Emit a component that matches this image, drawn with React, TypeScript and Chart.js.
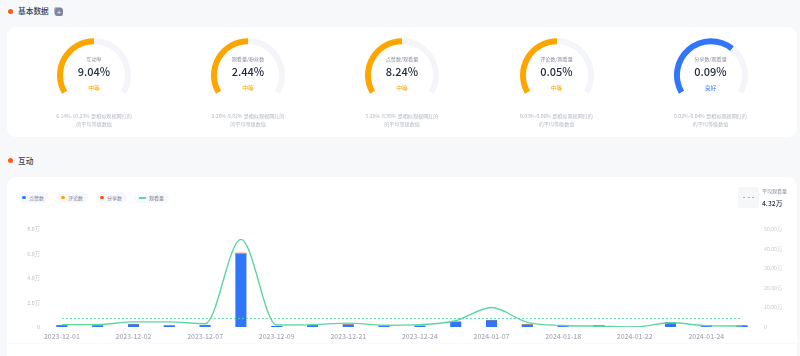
import React, { useEffect, useRef } from "react";
import { Chart, registerables } from "chart.js";

Chart.register(...registerables);

const FONT = '"Noto Sans CJK SC", "Noto Sans", sans-serif';

// ---- gauge data ----
const gaugeNames = ["互动率", "观看量/粉丝数", "点赞数/观看量", "评论数/观看量", "分享数/观看量"];
const gaugeValues = ["9.04%", "2.44%", "8.24%", "0.05%", "0.09%"];
const gaugeFill = [50, 50, 50, 50, 66];
const gaugeLevels = ["中等", "中等", "中等", "中等", "良好"];
const gaugeRanges = ["6.14%-10.23%", "2.20%-9.92%", "5.28%-8.99%", "0.03%-0.06%", "0.02%-0.04%"];
const gaugeCenters = [94, 248, 402, 556.5, 710.5];

// ---- main chart data ----
const categories = [
  "2023-12-01", "2023-12-01", "2023-12-02", "2023-12-05", "2023-12-07",
  "2023-12-08", "2023-12-09", "2023-12-15", "2023-12-21", "2023-12-22",
  "2023-12-24", "2023-12-28", "2024-01-07", "2024-01-10", "2024-01-18",
  "2024-01-20", "2024-01-22", "2024-01-23", "2024-01-24", "2024-01-25",
];
const likes = [0.12, 0.1, 0.19, 0.1, 0.12, 5.95, 0.06, 0.12, 0.17, 0.08, 0.08, 0.41, 0.52, 0.17, 0.12, 0.1, 0, 0.37, 0.12, 0.1];
const comments = [0, 0, 0, 0, 0, 0.07, 0, 0, 0, 0, 0, 0, 0, 0, 0, 0, 0, 0, 0, 0];
const shares = [0, 0, 0, 0, 0, 0.03, 0, 0, 0, 0, 0, 0, 0, 0, 0, 0, 0, 0, 0, 0];
const views = [1.2, 1.2, 2.6, 2.6, 1.7, 44.9, 1.0, 1.2, 2.0, 0.9, 1.2, 3.2, 10, 2.4, 0.8, 0.4, 0, 2.2, 0.7, 0.5];
const averageViews = 4.32;
const averageSeries = categories.map(() => averageViews);
const leftTickStep = 2;
const leftTickMax = 8;
const rightTickStep = 10;
const rightTickMax = 50;

const BLUE = "#2f76fb";
const AMBER = "#ffa500";
const RED = "#ff4d0d";
const GREEN = "#5cd6a0";

const legendItems = [
  { name: "点赞数", color: BLUE, left: 18, width: 31, line: false },
  { name: "评论数", color: AMBER, left: 57, width: 31, line: false },
  { name: "分享数", color: RED, left: 96, width: 31, line: false },
  { name: "观看量", color: GREEN, left: 134, width: 35, line: true },
];

function Gauge({ fill, color }: { fill: number; color: string }) {
  const ref = useRef<HTMLCanvasElement>(null);
  useEffect(() => {
    const chart = new Chart(ref.current!, {
      type: "doughnut",
      data: {
        datasets: [
          {
            data: [fill, 100 - fill],
            backgroundColor: [color, "#f4f5f8"],
            borderWidth: 0,
          },
        ],
      },
      options: {
        animation: false,
        responsive: false,
        rotation: -120,
        circumference: 240,
        cutout: "84%",
        layout: { padding: 1 },
        plugins: { legend: { display: false }, tooltip: { enabled: false } },
      },
    });
    return () => chart.destroy();
  }, [fill, color]);
  return <canvas ref={ref} width={76} height={58} style={{ display: "block", width: 76, height: 58 }} />;
}

function MainChart() {
  const ref = useRef<HTMLCanvasElement>(null);
  useEffect(() => {
    const tickColor = "#b9bdc8";
    const chart = new Chart(ref.current!, {
      type: "bar",
      data: {
        labels: categories,
        datasets: [
          { type: "line", label: "平均观看量", data: averageSeries, yAxisID: "y1", borderColor: GREEN, borderWidth: 1, borderDash: [2, 2], pointRadius: 0, order: 1 },
          { type: "line", label: "观看量", data: views, yAxisID: "y1", borderColor: GREEN, borderWidth: 1.4, cubicInterpolationMode: "monotone", pointRadius: 0, order: 0 },
          { type: "bar", label: "点赞数", data: likes, yAxisID: "y", backgroundColor: BLUE, barThickness: 10.4, stack: "s", order: 3 },
          { type: "bar", label: "评论数", data: comments, yAxisID: "y", backgroundColor: AMBER, barThickness: 10.4, stack: "s", order: 3 },
          { type: "bar", label: "分享数", data: shares, yAxisID: "y", backgroundColor: RED, barThickness: 10.4, stack: "s", order: 3 },
        ],
      } as any,
      options: {
        animation: false,
        responsive: false,
        layout: { padding: { top: 229.4, left: 0, right: 0, bottom: 0 } },
        plugins: { legend: { display: false }, tooltip: { enabled: false } },
        scales: {
          x: {
            stacked: true,
            grid: { display: false, drawTicks: false },
            border: { display: false },
            afterFit: (s: any) => { s.height = 29; },
            ticks: {
              autoSkip: false,
              maxRotation: 0,
              padding: 5,
              color: "#a9adb9",
              font: { family: FONT, size: 6.8, weight: 500 },
              callback(this: any, _v: any, i: number) {
                return i % 2 === 0 ? categories[i] : "";
              },
            },
          },
          y: {
            stacked: true,
            min: 0,
            max: leftTickMax,
            position: "left",
            grid: { display: false, drawTicks: false },
            border: { display: false },
            afterFit: (s: any) => { s.width = 44; },
            ticks: {
              stepSize: leftTickStep,
              padding: 4,
              color: tickColor,
              font: { family: FONT, size: 5.3 },
              callback: (v: any) => (v === 0 ? "0" : Number(v).toFixed(1) + "万"),
            },
          },
          y1: {
            min: 0,
            max: rightTickMax,
            position: "right",
            grid: { display: false, drawTicks: false },
            border: { display: false },
            afterFit: (s: any) => { s.width = 40; },
            ticks: {
              stepSize: rightTickStep,
              padding: 4,
              color: "#c6c9d2",
              font: { family: FONT, size: 5.2 },
              callback: (v: any) => (v === 0 ? "0" : Number(v).toFixed(2) + "万"),
            },
          },
        },
      } as any,
    });
    return () => chart.destroy();
  }, []);
  return <canvas ref={ref} width={800} height={356} style={{ position: "absolute", left: 0, top: 0, width: 800, height: 356 }} />;
}

const abs = (s: React.CSSProperties): React.CSSProperties => ({ position: "absolute", ...s });

function Heading({ text, top }: { text: string; top: number }) {
  return (
    <>
      <div style={abs({ left: 7.5, top: top - 2.5, width: 5, height: 5, borderRadius: "50%", background: "#ff5a12" })} />
      <div style={abs({ left: 18, top: top - 6, height: 12, lineHeight: "12px", fontSize: 7.7, fontWeight: 500, color: "#3a4152", whiteSpace: "nowrap" })}>{text}</div>
    </>
  );
}

export default function App() {
  return (
    <div style={abs({ left: 0, top: 0, width: 800, height: 356, overflow: "hidden", background: "#f7f8fa", fontFamily: FONT })}>
      <Heading text="基本数据" top={11} />
      <div style={abs({ left: 55, top: 7.5, width: 8, height: 8, borderRadius: 2, background: "#7f859c", color: "#fff", fontSize: 7, lineHeight: "8px", textAlign: "center", boxShadow: "-1px -1px 0 #b5b9c6" })}>+</div>
      <div style={abs({ left: 7, top: 27, width: 790, height: 110, borderRadius: 9, background: "#fff" })} />

      {gaugeNames.map((name, i) => {
        const cx = gaugeCenters[i];
        const color = gaugeLevels[i] === "良好" ? "#2f76fb" : "#ffa500";
        const textBox = (top: number, size: number, col: string, weight = 400) =>
          abs({ left: cx - 60, width: 120, top, height: 14, lineHeight: "14px", textAlign: "center", fontSize: size, color: col, fontWeight: weight, whiteSpace: "nowrap" });
        return (
          <React.Fragment key={name}>
            <div style={abs({ left: cx - 38, top: 37 })}>
              <Gauge fill={gaugeFill[i]} color={color} />
            </div>
            <div style={textBox(52, 5.1, "#8b909d")}>{name}</div>
            <div style={textBox(64, 11, "#242b3d", 500)}>{gaugeValues[i]}</div>
            <div style={textBox(81, 5.8, color)}>{gaugeLevels[i]}</div>
            <div style={textBox(108.5, 5.1, "#b3b7c1")}>{gaugeRanges[i]} 是相似观视网红的</div>
            <div style={textBox(116.5, 5.1, "#b3b7c1")}>的平均等级数值</div>
          </React.Fragment>
        );
      })}

      <Heading text="互动" top={160.5} />
      <div style={abs({ left: 7, top: 177, width: 790, height: 190, borderRadius: 9, background: "#fff" })} />
      <div style={abs({ left: 7, top: 343, width: 790, height: 1, background: "#f9fafb" })} />

      {legendItems.map((it) => (
        <div key={it.name} style={abs({ left: it.left, top: 192, width: it.width, height: 11, borderRadius: 6, background: "#f7f8fb" })}>
          {it.line ? (
            <div style={abs({ left: 5, top: 4.5, width: 7, height: 2, background: it.color })} />
          ) : (
            <div style={abs({ left: 4.2, top: 3.7, width: 3.6, height: 3.6, borderRadius: "50%", background: it.color })} />
          )}
          <div style={abs({ left: it.line ? 15 : 11, top: 0, height: 11, lineHeight: "11px", fontSize: 5, color: "#7d8290", whiteSpace: "nowrap" })}>{it.name}</div>
        </div>
      ))}

      <MainChart />

      <div style={abs({ left: 737.5, top: 187, width: 21, height: 21, borderRadius: 3, background: "#f6f7f9" })} />
      <div style={abs({ left: 743, top: 197, width: 11, height: 1, background: "repeating-linear-gradient(90deg, " + GREEN + " 0 2px, transparent 2px 4.5px)" })} />
      <div style={abs({ left: 762, top: 187, height: 8, lineHeight: "8px", fontSize: 5, color: "#8b909d", whiteSpace: "nowrap" })}>平均观看量</div>
      <div style={abs({ left: 762, top: 198, height: 10, lineHeight: "10px", fontSize: 6.8, fontWeight: 500, color: "#2d3445", whiteSpace: "nowrap" })}>{averageViews}万</div>
    </div>
  );
}
